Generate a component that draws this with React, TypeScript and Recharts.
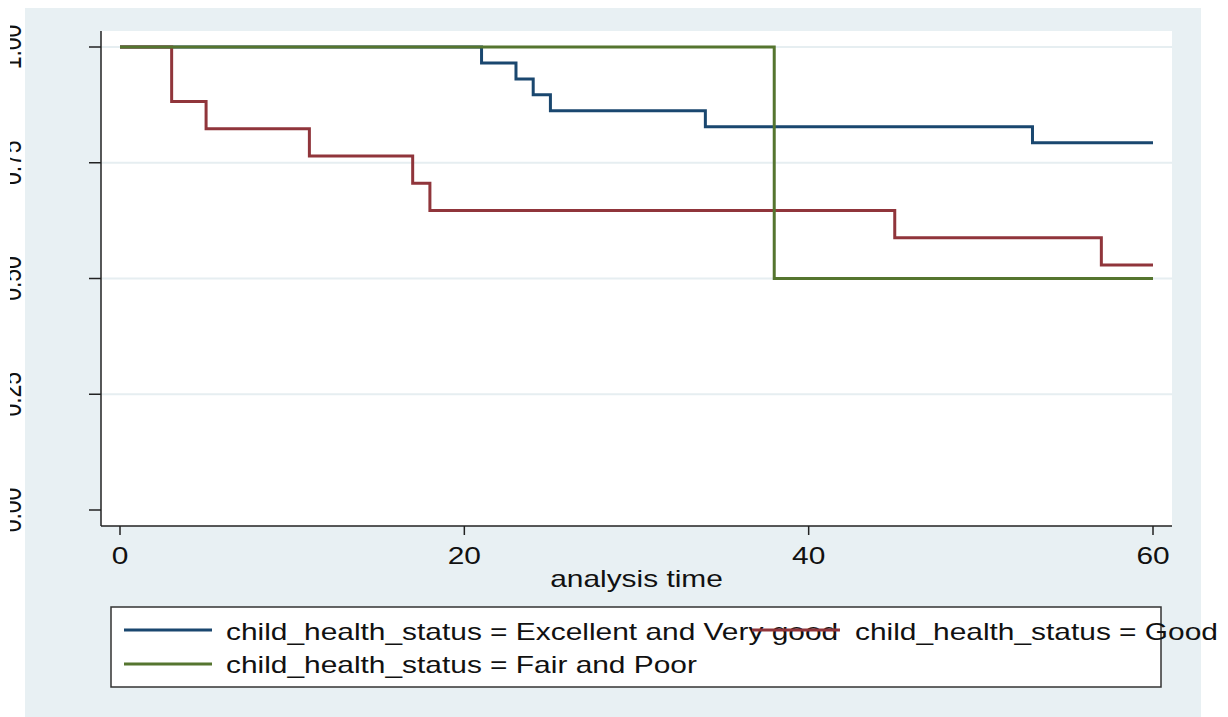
import React from "react";
import { CartesianGrid, Line, LineChart, XAxis, YAxis } from "recharts";

// Kaplan-Meier estimates by child health status
const EXCELLENT_TIME = [0, 21, 23, 24, 25, 34, 53, 60];
const EXCELLENT_SURV = [1, 0.9655, 0.931, 0.8966, 0.8621, 0.8276, 0.7931, 0.7931];

const GOOD_TIME = [0, 3, 5, 11, 17, 18, 45, 57, 60];
const GOOD_SURV = [1, 0.8824, 0.8235, 0.7647, 0.7059, 0.6471, 0.5882, 0.5294, 0.5294];

const FAIR_TIME = [0, 38, 60];
const FAIR_SURV = [1, 0.5, 0.5];

const X_TICKS = [0, 20, 40, 60];
const Y_TICKS = [0, 0.25, 0.5, 0.75, 1];
const GRID_VALUES = [0.25, 0.5, 0.75, 1];

const LABELS = {
  excellent: "child_health_status = Excellent and Very good",
  good: "child_health_status = Good",
  fair: "child_health_status = Fair and Poor",
};
const X_TITLE = "analysis time";

const BLUE = "#1a476f";
const RED = "#90353b";
const GREEN = "#55752f";
const PANEL = "#e8f0f3";
const GRID = "#e6eef1";
const INK = "#111";
const FONT = '"Liberation Sans", Arial, Helvetica, sans-serif';
const FS = 23;
// the export is wider than tall, so every glyph is stretched sideways
const SX = 1.3;

const W = 1218;
const H = 717;

const toPoints = (t: number[], s: number[]) => t.map((x, i) => ({ t: x, s: s[i] }));

const SERIES = [
  { key: "excellent", color: BLUE, data: toPoints(EXCELLENT_TIME, EXCELLENT_SURV) },
  { key: "good", color: RED, data: toPoints(GOOD_TIME, GOOD_SURV) },
  { key: "fair", color: GREEN, data: toPoints(FAIR_TIME, FAIR_SURV) },
];

// legend keys: [series, colour, line x0, line x1, line y, text x, text baseline]
const LEGEND_ROWS: [keyof typeof LABELS, string, number, number, number, number, number][] = [
  ["excellent", BLUE, 114, 202, 630, 216, 640],
  ["good", RED, 742, 830, 630, 845, 640],
  ["fair", GREEN, 114, 202, 664, 216, 673],
];

const Wide = ({ x, y, anchor = "start", rotate = 0, children }: any) => (
  <text
    transform={`translate(${x} ${y}) scale(${SX} 1) rotate(${rotate})`}
    textAnchor={anchor}
    fontSize={FS}
    fontFamily={FONT}
    fill={INK}
  >
    {children}
  </text>
);

// y labels sit against the left edge of the graph region, partly off-canvas
const YTick = (props: any) => (
  <Wide x={11} y={props.y} anchor="middle" rotate={-90}>
    {Number(props.payload.value).toFixed(2)}
  </Wide>
);

const XTick = (props: any) => (
  <Wide x={props.x} y={props.y + 27} anchor="middle">
    {props.payload.value}
  </Wide>
);

const XTitle = (props: any) => {
  const vb = props.viewBox;
  return (
    <Wide x={vb.x + vb.width / 2} y={vb.y + 61} anchor="middle">
      {X_TITLE}
    </Wide>
  );
};

export default function App() {
  return (
    <div
      style={{
        position: "relative",
        width: W,
        height: H,
        marginLeft: 2,
        marginTop: -8,
        overflow: "hidden",
        fontFamily: FONT,
      }}
    >
      <div style={{ position: "absolute", left: 15, top: 6, width: 1176, height: 711, background: PANEL }} />
      <div style={{ position: "absolute", left: 0, top: 0 }}>
        <LineChart width={W} height={H} margin={{ top: 31, right: 56, bottom: 131, left: 11 }}>
          <CartesianGrid
            fill="#fff"
            stroke={GRID}
            strokeWidth={2}
            vertical={false}
            horizontalValues={GRID_VALUES}
          />
          <XAxis
            dataKey="t"
            type="number"
            domain={[0, 60]}
            ticks={X_TICKS}
            padding={{ left: 19, right: 19 }}
            height={60}
            tickSize={9}
            tick={<XTick />}
            axisLine={{ stroke: "#222", strokeWidth: 1.5 }}
            tickLine={{ stroke: "#222", strokeWidth: 1.5 }}
            label={<XTitle />}
          />
          <YAxis
            type="number"
            domain={[0, 1]}
            ticks={Y_TICKS}
            padding={{ top: 16, bottom: 16 }}
            width={80}
            tickSize={12}
            tick={<YTick />}
            axisLine={{ stroke: "#222", strokeWidth: 1.5 }}
            tickLine={{ stroke: "#222", strokeWidth: 1.5 }}
          />
          {SERIES.map((s) => (
            <Line
              key={s.key}
              data={s.data}
              dataKey="s"
              type="stepAfter"
              stroke={s.color}
              strokeWidth={3}
              strokeLinecap="butt"
              dot={false}
              activeDot={false}
              isAnimationActive={false}
            />
          ))}
        </LineChart>
      </div>
      <svg width={W} height={H} style={{ position: "absolute", left: 0, top: 0, pointerEvents: "none" }}>
        <rect x={101} y={607} width={1050} height={80} fill="#fff" stroke="#333" strokeWidth={1.5} />
        {LEGEND_ROWS.map(([key, color, x0, x1, ly, tx, ty]) => (
          <g key={key}>
            <line x1={x0} x2={x1} y1={ly} y2={ly} stroke={color} strokeWidth={3} />
            <Wide x={tx} y={ty}>
              {LABELS[key]}
            </Wide>
          </g>
        ))}
      </svg>
    </div>
  );
}
